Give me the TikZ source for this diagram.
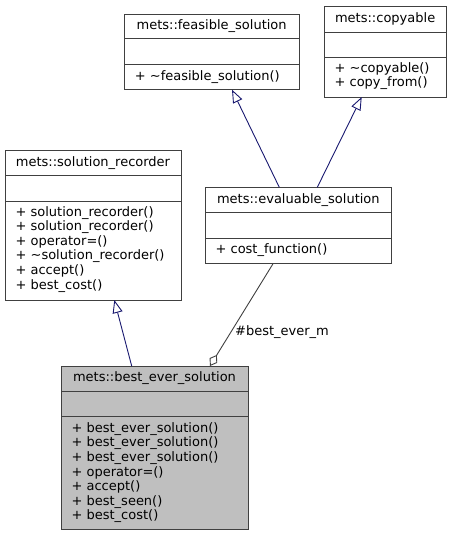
\documentclass[tikz,border=0pt]{standalone}
\usepackage{fontspec}
\setmainfont{DejaVu Sans}
\usetikzlibrary{arrows.meta,calc}
\definecolor{bord}{HTML}{404040}
\definecolor{inh}{HTML}{191970}
\definecolor{hl}{HTML}{BFBFBF}
\begin{document}
\begin{tikzpicture}[x=1pt,y=-1pt,
  box/.style={draw=bord,line width=1pt,inner sep=0pt,outer sep=0pt,anchor=north west,fill=white},
  sep/.style={draw=bord,line width=1pt},
  title/.style={inner sep=0pt,font=\fontsize{13}{14.6}\selectfont},
  members/.style={inner sep=0pt,anchor=north west,align=left,font=\fontsize{13}{14.6}\selectfont},
  inhedge/.style={draw=inh,line width=0.9pt,-{Triangle[open,length=13pt,width=10pt,fill=white]}},
  aggedge/.style={draw=bord,line width=0.9pt,-{Diamond[open,length=13pt,width=9pt,fill=white]}},
  elabel/.style={inner sep=0pt,anchor=west,font=\fontsize{13}{14.6}\selectfont}]
\useasboundingbox (0,0) rectangle (452,536);
% feasible_solution
\node[box,minimum width=174.7pt,minimum height=75.7pt] (fs) at (124.3,14) {};
\draw[sep] ($(fs.north west)+(0,24.7)$) -- ($(fs.north east)+(0,24.7)$);
\draw[sep] ($(fs.north west)+(0,50.3)$) -- ($(fs.north east)+(0,50.3)$);
\node[title] (fst) at ($(fs.north)+(0,12.3)$) {mets::feasible\_solution};
\node[members] (fsm) at ($(fs.north west)+(10.4,56.5)$) {+ \textasciitilde feasible\_solution()};
% copyable
\node[box,minimum width=122.3pt,minimum height=90.3pt] (cp) at (324,6.7) {};
\draw[sep] ($(cp.north west)+(0,25.6)$) -- ($(cp.north east)+(0,25.6)$);
\draw[sep] ($(cp.north west)+(0,50.3)$) -- ($(cp.north east)+(0,50.3)$);
\node[title] (cpt) at ($(cp.north)+(0,12.3)$) {mets::copyable};
\node[members] (cpm) at ($(cp.north west)+(10.4,55.3)$) {+ \textasciitilde copyable()\\+ copy\_from()};
% solution_recorder
\node[box,minimum width=176pt,minimum height=149.3pt] (sr) at (5,150.7) {};
\draw[sep] ($(sr.north west)+(0,25)$) -- ($(sr.north east)+(0,25)$);
\draw[sep] ($(sr.north west)+(0,50.6)$) -- ($(sr.north east)+(0,50.6)$);
\node[title] (srt) at ($(sr.north)+(0,12.3)$) {mets::solution\_recorder};
\node[members] (srm) at ($(sr.north west)+(10.4,55.3)$) {+ solution\_recorder()\\+ solution\_recorder()\\+ operator=()\\+ \textasciitilde solution\_recorder()\\+ accept()\\+ best\_cost()};
% evaluable_solution
\node[box,minimum width=186.7pt,minimum height=76pt] (ev) at (205,187.3) {};
\draw[sep] ($(ev.north west)+(0,25)$) -- ($(ev.north east)+(0,25)$);
\draw[sep] ($(ev.north west)+(0,50.7)$) -- ($(ev.north east)+(0,50.7)$);
\node[title] (evt) at ($(ev.north)+(0,12.3)$) {mets::evaluable\_solution};
\node[members] (evm) at ($(ev.north west)+(10.4,56)$) {+ cost\_function()};
% best_ever_solution
\node[box,fill=hl,minimum width=187pt,minimum height=163.3pt] (be) at (61,366) {};
\draw[sep] ($(be.north west)+(0,25)$) -- ($(be.north east)+(0,25)$);
\draw[sep] ($(be.north west)+(0,50.3)$) -- ($(be.north east)+(0,50.3)$);
\node[title] (bet) at ($(be.north)+(0,12.3)$) {mets::best\_ever\_solution};
\node[members] (bem) at ($(be.north west)+(10.4,56.3)$) {+ best\_ever\_solution()\\+ best\_ever\_solution()\\+ best\_ever\_solution()\\+ operator=()\\+ accept()\\+ best\_seen()\\+ best\_cost()};
% connector end points
\coordinate (ev-a) at ($(ev.north west)+(74.3,0)$);
\coordinate (fs-a) at ($(fs.south west)+(107.7,0)$);
\coordinate (ev-b) at ($(ev.north west)+(112.3,0)$);
\coordinate (cp-a) at ($(cp.south west)+(37.7,0)$);
\coordinate (be-a) at ($(be.north west)+(70.7,0)$);
\coordinate (sr-a) at ($(sr.south west)+(109.3,0)$);
\coordinate (ev-c) at ($(ev.south west)+(68.3,0)$);
\coordinate (be-b) at ($(be.north west)+(149,0)$);
\draw[inhedge] (ev-a) -- (fs-a);
\draw[inhedge] (ev-b) -- (cp-a);
\draw[inhedge] (be-a) -- (sr-a);
\draw[aggedge] (ev-c) -- (be-b);
\node[elabel] (lbl) at (235,332.3) {\#best\_ever\_m};
\end{tikzpicture}
\end{document}
